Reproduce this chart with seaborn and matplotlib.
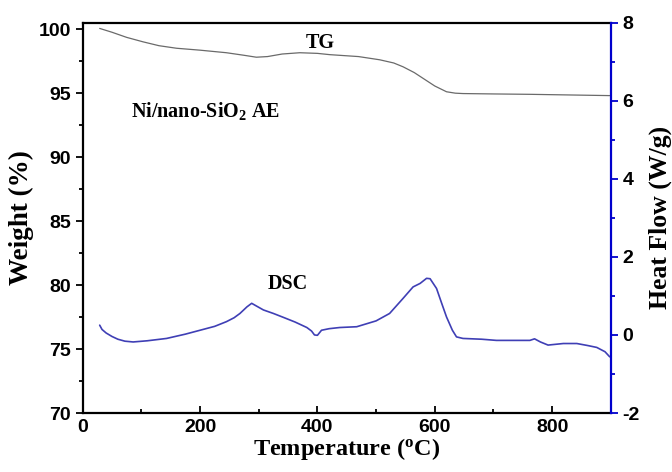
import numpy as np
import pandas as pd
import matplotlib
matplotlib.use("Agg")
import matplotlib.pyplot as plt
import seaborn as sns
from matplotlib.ticker import MultipleLocator

# TG data (weight %)
tg_temp = [29, 50, 75, 103, 130, 160, 200, 245, 275, 296, 315, 340, 370, 400, 421, 470, 506, 530, 546, 565, 580, 600, 620, 635, 648, 700, 762, 830, 898]
tg_weight = [100.05, 99.75, 99.35, 99.0, 98.7, 98.5, 98.35, 98.15, 97.95, 97.8, 97.85, 98.05, 98.15, 98.1, 98.0, 97.85, 97.6, 97.35, 97.05, 96.6, 96.15, 95.55, 95.1, 94.99, 94.96, 94.93, 94.9, 94.85, 94.8]

# DSC data (heat flow W/g)
dsc_temp = [29, 33, 40, 50, 60, 72, 86, 110, 143, 175, 200, 225, 245, 258, 268, 280, 288, 295, 308, 325, 342, 362, 382, 390, 395, 400, 407, 420, 438, 467, 500, 523, 545, 563, 575, 586, 592, 603, 612, 620, 630, 637, 648, 680, 705, 740, 762, 770, 780, 793, 819, 842, 860, 876, 890, 898]
dsc_flow = [0.25, 0.14, 0.05, -0.04, -0.11, -0.16, -0.18, -0.15, -0.09, 0.02, 0.12, 0.22, 0.34, 0.44, 0.55, 0.72, 0.81, 0.75, 0.64, 0.55, 0.45, 0.33, 0.19, 0.1, 0.0, -0.01, 0.12, 0.16, 0.19, 0.21, 0.36, 0.55, 0.92, 1.23, 1.32, 1.45, 1.44, 1.19, 0.8, 0.46, 0.12, -0.05, -0.09, -0.11, -0.14, -0.14, -0.14, -0.1, -0.18, -0.26, -0.22, -0.22, -0.27, -0.32, -0.43, -0.56]

sns.set_theme(style="ticks")
plt.rcParams['font.family'] = ['Liberation Sans', 'DejaVu Sans']
plt.rcParams['mathtext.fontset'] = 'custom'
plt.rcParams['axes.unicode_minus'] = False
plt.rcParams['text.color'] = 'black'
plt.rcParams['axes.labelcolor'] = 'black'
plt.rcParams['xtick.color'] = 'black'
plt.rcParams['ytick.color'] = 'black'

fig = plt.figure(figsize=(6.72, 4.72), dpi=100)
ax = fig.add_axes([0.123, 0.125, 0.786, 0.827])
ax2 = ax.twinx()

tg = pd.DataFrame({"T": tg_temp, "W": tg_weight})
dsc = pd.DataFrame({"T": dsc_temp, "H": dsc_flow})
sns.lineplot(data=tg, x="T", y="W", ax=ax, color="#6a6a6a", linewidth=0.9)
sns.lineplot(data=dsc, x="T", y="H", ax=ax2, color="#3f3fb5", linewidth=1.2)

ax.set_xlim(0, 900)
ax.set_ylim(70, 100.5)
ax2.set_ylim(-2, 8)

ax.xaxis.set_major_locator(MultipleLocator(200))
ax.xaxis.set_minor_locator(MultipleLocator(100))
ax.yaxis.set_major_locator(MultipleLocator(5))
ax.yaxis.set_minor_locator(MultipleLocator(2.5))
ax2.yaxis.set_major_locator(MultipleLocator(2))
ax2.yaxis.set_minor_locator(MultipleLocator(1))

ax.tick_params(axis='x', which='both', direction='in', length=5, width=1.3, top=False,
               labelsize=14, pad=4, colors='black')
ax.tick_params(axis='x', which='minor', length=3)
ax.tick_params(axis='y', which='major', direction='out', length=5, width=1.3, labelsize=14, colors='black')
ax.tick_params(axis='y', which='minor', direction='out', length=3, width=1.3, colors='black')
ax2.tick_params(axis='y', which='major', direction='out', length=5, width=1.3, labelsize=14,
                color='#0000cc', labelcolor='black')
ax2.tick_params(axis='y', which='minor', direction='out', length=3, width=1.3, color='#0000cc')

for lab in ax.get_xticklabels() + ax.get_yticklabels() + ax2.get_yticklabels():
    lab.set_fontweight('bold')

for s in ['left', 'bottom', 'top']:
    ax.spines[s].set_linewidth(1.6)
    ax.spines[s].set_color('black')
for s in ['left', 'bottom', 'top']:
    ax2.spines[s].set_visible(False)
ax2.spines['right'].set_color('#0000cc')
ax2.spines['right'].set_linewidth(1.6)
ax.spines['right'].set_visible(False)

serif = ['Liberation Serif', 'DejaVu Serif']
ax.set_xlabel(r'Temperature ($\mathregular{^{o}}$C)', fontsize=17.5, fontweight='bold', family=serif, labelpad=0)
ax.set_ylabel('Weight (%)', fontsize=19.5, fontweight='bold', family=serif, labelpad=3)
ax2.set_ylabel('Heat Flow (W/g)', fontsize=18.5, fontweight='bold', family=serif, labelpad=6)

ax.text(405, 98.9, 'TG', fontsize=14.5, fontweight='bold', family=serif, ha='center', va='center')
ax.text(350, 80.1, 'DSC', fontsize=14.5, fontweight='bold', family=serif, ha='center', va='center')
ax.text(210, 93.6, r'Ni/nano-SiO$\mathregular{_2}$ AE', fontsize=14.5, fontweight='bold', family=serif,
        ha='center', va='center')

fig.savefig('out.png', dpi=100)
